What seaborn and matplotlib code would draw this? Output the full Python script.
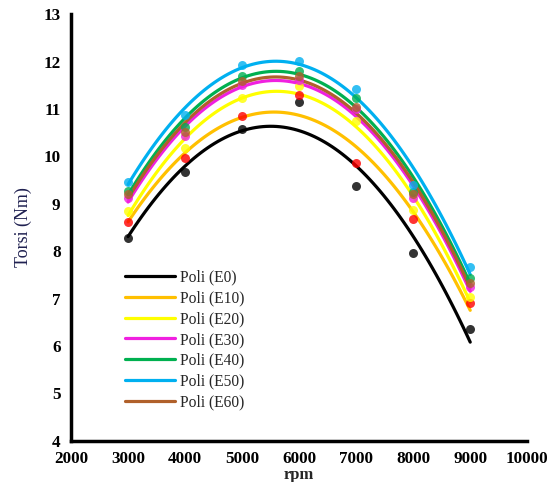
import numpy as np
import pandas as pd
import matplotlib
matplotlib.use("Agg")
import matplotlib.pyplot as plt
import seaborn as sns
from matplotlib.lines import Line2D

# Engine speed (rpm) and measured torque (Nm) per ethanol blend
rpm = [3000, 4000, 5000, 6000, 7000, 8000, 9000]
e0 = [8.28, 9.67, 10.58, 11.15, 9.37, 7.96, 6.36]
e10 = [8.62, 9.96, 10.85, 11.29, 9.86, 8.68, 6.90]
e20 = [8.85, 10.17, 11.22, 11.48, 10.75, 8.87, 7.03]
e30 = [9.13, 10.43, 11.50, 11.62, 11.00, 9.12, 7.24]
e40 = [9.27, 10.62, 11.70, 11.80, 11.22, 9.25, 7.43]
e50 = [9.46, 10.87, 11.93, 12.01, 11.43, 9.39, 7.66]
e60 = [9.20, 10.52, 11.58, 11.70, 11.05, 9.20, 7.32]

labels = ["Poli (E0)", "Poli (E10)", "Poli (E20)", "Poli (E30)",
          "Poli (E40)", "Poli (E50)", "Poli (E60)"]
series = [e0, e10, e20, e30, e40, e50, e60]
line_colors = ["#000000", "#FFC000", "#FFFF00", "#F020E0",
               "#00B050", "#00B0F0", "#B0602A"]
dot_colors = ["#000000", "#FF0000", "#FFFF00", "#F020E0",
              "#00B050", "#00B0F0", "#B0602A"]

sns.set_style("white")
plt.rcParams["font.family"] = ["Liberation Serif", "DejaVu Serif"]

fig = plt.figure(figsize=(5.55, 4.82), dpi=100)
ax = fig.add_axes([0.128, 0.0857, 0.822, 0.885])

for vals, lab, lc, dc in zip(series, labels, line_colors, dot_colors):
    df = pd.DataFrame({"rpm": rpm, "torsi": vals})
    sns.regplot(data=df, x="rpm", y="torsi", order=2, ci=None, ax=ax,
                truncate=True,
                scatter_kws={"s": 42, "color": dc, "zorder": 3, "linewidths": 0},
                line_kws={"color": lc, "lw": 2.3, "zorder": 2})

ax.set_xlim(2000, 10000)
ax.set_ylim(4, 13)
ax.set_xticks(range(2000, 10001, 1000))
ax.set_yticks(range(4, 14))
ax.set_xlabel("rpm", fontsize=12, fontweight="bold", labelpad=0)
ax.set_ylabel("Torsi (Nm)", fontsize=13, color="#1F2050", labelpad=8)

for side in ["top", "right"]:
    ax.spines[side].set_visible(False)
for side in ["left", "bottom"]:
    ax.spines[side].set_linewidth(2.5)
    ax.spines[side].set_color("black")
ax.tick_params(axis="both", direction="inout", length=9, width=2.3,
               labelsize=12.3, colors="black", pad=3)
for t in ax.get_xticklabels() + ax.get_yticklabels():
    t.set_fontweight("bold")

handles = [Line2D([0], [0], color=c, lw=2.3) for c in line_colors]
ax.legend(handles, labels, loc="upper left", bbox_to_anchor=(0.105, 0.416),
          frameon=False, fontsize=11.2, handlelength=3.2, handletextpad=0.35,
          labelspacing=0.31, borderaxespad=0)

fig.savefig("out.png", dpi=100)
